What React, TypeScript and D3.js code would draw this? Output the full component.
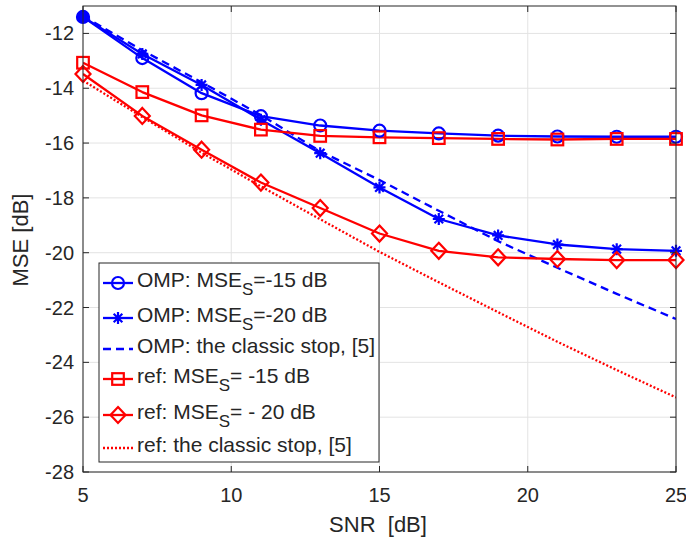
import React from 'react';
import * as d3 from 'd3';

const snr = [5, 7, 9, 11, 13, 15, 17, 19, 21, 23, 25];
const ompMse15 = [-11.4, -12.9, -14.18, -15.02, -15.36, -15.55, -15.65, -15.73, -15.76, -15.77, -15.77];
const ompMse20 = [-11.4, -12.75, -13.88, -15.15, -16.37, -17.62, -18.77, -19.37, -19.7, -19.87, -19.93];
const ompClassic = [-11.36, -12.62, -13.78, -14.98, -16.3, -17.35, -18.47, -19.58, -20.55, -21.5, -22.42];
const refMse15 = [-13.07, -14.14, -14.99, -15.51, -15.74, -15.79, -15.82, -15.85, -15.87, -15.85, -15.85];
const refMse20 = [-13.48, -15.01, -16.24, -17.44, -18.37, -19.3, -19.93, -20.17, -20.23, -20.27, -20.27];
const refClassic = [-13.72, -15.05, -16.35, -17.58, -18.78, -19.97, -21.08, -22.17, -23.25, -24.28, -25.28];

const xTicks = [5, 10, 15, 20, 25];
const yTicks = [-28, -26, -24, -22, -20, -18, -16, -14, -12];

const BLUE = '#0000ff';
const RED = '#ff0000';
const AX = '#262626';

type Marker = 'circle' | 'star' | 'square' | 'diamond' | 'none';

type Series = {
  values: number[];
  color: string;
  dash?: string;
  marker: Marker;
  label: string;
  sub?: string;
  tail?: string;
};

const series: Series[] = [
  { values: ompMse15, color: BLUE, marker: 'circle', label: 'OMP: MSE', sub: 'S', tail: '=-15 dB' },
  { values: ompMse20, color: BLUE, marker: 'star', label: 'OMP: MSE', sub: 'S', tail: '=-20 dB' },
  { values: ompClassic, color: BLUE, dash: '8 5', marker: 'none', label: 'OMP: the classic stop, [5]' },
  { values: refMse15, color: RED, marker: 'square', label: 'ref: MSE', sub: 'S', tail: '= -15 dB' },
  { values: refMse20, color: RED, marker: 'diamond', label: 'ref: MSE', sub: 'S', tail: '= - 20 dB' },
  { values: refClassic, color: RED, dash: '2 2', marker: 'none', label: 'ref: the classic stop, [5]' },
];

function MarkerShape({ type, x, y, color }: { type: Marker; x: number; y: number; color: string }) {
  const sw = 2.2;
  if (type === 'circle') return <circle cx={x} cy={y} r={6} fill="none" stroke={color} strokeWidth={sw} />;
  if (type === 'square') return <rect x={x - 5.8} y={y - 5.8} width={11.6} height={11.6} fill="none" stroke={color} strokeWidth={sw} />;
  if (type === 'diamond')
    return <path d={`M${x},${y - 8}L${x + 7.5},${y}L${x},${y + 8}L${x - 7.5},${y}Z`} fill="none" stroke={color} strokeWidth={sw} />;
  if (type === 'star') {
    const r = 6;
    const d = r * 0.72;
    return (
      <path
        d={`M${x - r},${y}L${x + r},${y}M${x},${y - r}L${x},${y + r}M${x - d},${y - d}L${x + d},${y + d}M${x - d},${y + d}L${x + d},${y - d}`}
        stroke={color}
        strokeWidth={sw}
      />
    );
  }
  return null;
}

export default function App() {
  const width = 686;
  const height = 539;
  const left = 83, right = 676, top = 6, bottom = 472;

  const x = d3.scaleLinear().domain([5, 25]).range([left, right]);
  const y = d3.scaleLinear().domain([-28, -11]).range([bottom, top]);

  const line = d3.line<number>()
    .x((_, i) => x(snr[i]))
    .y((d) => y(d));

  const font = 'Liberation Sans, Arial, Helvetica, sans-serif';
  const legendRows = [283, 318, 349, 379, 415, 448];

  return (
    <svg width={width} height={height} style={{ position: 'absolute', left: 0, top: 0, background: '#fff' }} fontFamily={font}>
      <defs>
        <clipPath id="clip">
          <rect x={left} y={top} width={right - left} height={bottom - top} />
        </clipPath>
      </defs>
      <rect x={0} y={0} width={width} height={height} fill="#fff" />
      {/* grid */}
      {xTicks.map((t) => (
        <line key={'gx' + t} x1={x(t)} x2={x(t)} y1={top} y2={bottom} stroke="#e3e3e3" strokeWidth={1} />
      ))}
      {yTicks.map((t) => (
        <line key={'gy' + t} x1={left} x2={right} y1={y(t)} y2={y(t)} stroke="#e3e3e3" strokeWidth={1} />
      ))}

      {/* series */}
      <g clipPath="url(#clip)">
        {series.map((s, i) => (
          <path key={'s' + i} d={line(s.values) || ''} fill="none" stroke={s.color} strokeWidth={2.3}
            strokeDasharray={s.dash} strokeLinejoin="round" />
        ))}
      </g>
      {series.map((s, i) =>
        s.marker === 'none' ? null : (
          <g key={'m' + i}>
            {s.values.map((v, j) => (
              <MarkerShape key={j} type={s.marker} x={x(snr[j])} y={y(v)} color={s.color} />
            ))}
          </g>
        )
      )}
      {/* overlapping OMP markers at the first SNR point blur into a solid dot */}
      <circle cx={x(snr[0])} cy={y(ompMse15[0])} r={6.5} fill={BLUE} />

      {/* axes box and ticks */}
      <rect x={left} y={top} width={right - left} height={bottom - top} fill="none" stroke={AX} strokeWidth={1} />
      {xTicks.map((t) => (
        <g key={'tx' + t}>
          <line x1={x(t)} x2={x(t)} y1={bottom} y2={bottom - 6} stroke={AX} />
          <line x1={x(t)} x2={x(t)} y1={top} y2={top + 6} stroke={AX} />
          <text x={x(t)} y={502} textAnchor="middle" fontSize={20} fill={AX}>{t}</text>
        </g>
      ))}
      {yTicks.map((t) => (
        <g key={'ty' + t}>
          <line x1={left} x2={left + 6} y1={y(t)} y2={y(t)} stroke={AX} />
          <line x1={right} x2={right - 6} y1={y(t)} y2={y(t)} stroke={AX} />
          <text x={74} y={y(t) + 7} textAnchor="end" fontSize={20} fill={AX}>{t}</text>
        </g>
      ))}

      {/* axis labels */}
      <text x={378} y={532} textAnchor="middle" fontSize={22} fill={AX} style={{ whiteSpace: 'pre' }}>SNR  [dB]</text>
      <text transform="translate(28,240) rotate(-90)" textAnchor="middle" fontSize={22} fill={AX}>MSE [dB]</text>

      {/* legend */}
      <rect x={99} y={263} width={280} height={199} fill="#fff" stroke={AX} strokeWidth={1} />
      {series.map((s, i) => {
        const ly = legendRows[i];
        return (
          <g key={'l' + i}>
            <line x1={103} x2={133} y1={ly} y2={ly} stroke={s.color} strokeWidth={2.3} strokeDasharray={s.dash} />
            <MarkerShape type={s.marker} x={118} y={ly} color={s.color} />
            <text x={137} y={ly + 4} fontSize={21} fill={AX}>
              {s.label}
              {s.sub ? <tspan fontSize={17} dy={8}>{s.sub}</tspan> : null}
              {s.tail ? <tspan dy={-8}>{s.tail}</tspan> : null}
            </text>
          </g>
        );
      })}
    </svg>
  );
}
